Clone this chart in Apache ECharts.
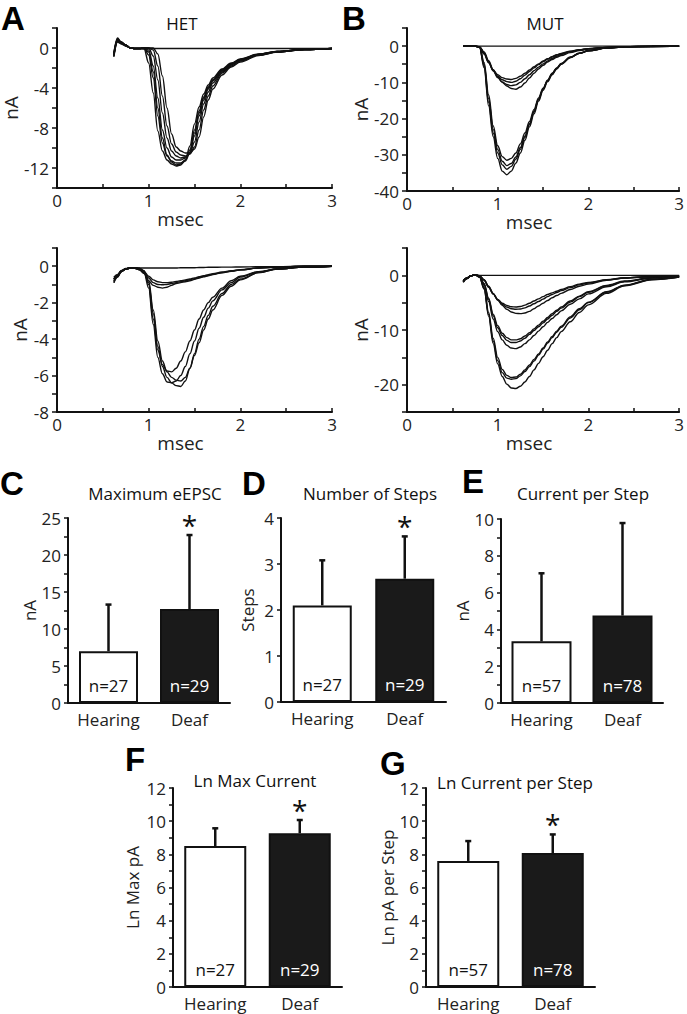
<!DOCTYPE html>
<html><head><meta charset="utf-8">
<script src="https://cdn.jsdelivr.net/npm/echarts@6/dist/echarts.min.js"></script>
<style>html,body{margin:0;padding:0;background:#fff}#c{width:687px;height:1014px}</style>
</head><body><div id="c"></div>
<script>
// ---------- DATA ----------
// shared time base (msec) for all traces
const timeMs = [0.62,0.66,0.7,0.75,0.8,0.85,0.9,0.95,1.0,1.05,1.1,1.15,1.2,1.25,1.3,1.35,1.4,1.45,1.5,1.55,1.6,1.65,1.7,1.8,1.9,2.0,2.2,2.4,2.7,3.0];

// A (top): HET traces, nA
const hetTop = [
  [-0.6,0.9,0.6,0.3,0,-0.05,-0.05,-0.1,-1.5,-4.5,-8.3,-10.3,-11.2,-11.6,-11.8,-11.7,-11.2,-9.8,-7.6,-5.9,-4.6,-3.7,-3.0,-2.1,-1.5,-1.1,-0.6,-0.35,-0.15,-0.05],
  [-0.8,0.7,0.5,0.25,0,-0.05,-0.05,0,-0.7,-3.0,-6.8,-9.5,-10.8,-11.3,-11.5,-11.5,-11.2,-10.2,-8.2,-6.3,-4.9,-3.9,-3.2,-2.2,-1.6,-1.15,-0.65,-0.35,-0.15,-0.05],
  [-0.8,0.8,0.6,0.3,0,-0.05,-0.05,0,-0.4,-2.4,-6.0,-9.0,-10.7,-11.4,-11.7,-11.6,-11.3,-10.5,-8.5,-6.5,-5.0,-4.0,-3.2,-2.2,-1.6,-1.15,-0.65,-0.35,-0.15,-0.05],
  [-0.5,1.0,0.6,0.3,0,-0.05,-0.05,0,-0.2,-1.8,-5.0,-8.2,-10.0,-10.9,-11.2,-11.2,-11.0,-10.4,-8.8,-6.8,-5.2,-4.1,-3.3,-2.3,-1.6,-1.2,-0.65,-0.35,-0.15,-0.05],
  [-0.9,0.6,0.4,0.2,0,-0.05,-0.05,0,0,-0.8,-3.2,-6.5,-9.0,-10.3,-10.8,-11.0,-10.9,-10.5,-9.4,-7.4,-5.6,-4.4,-3.5,-2.4,-1.7,-1.2,-0.7,-0.4,-0.15,-0.05],
  [-0.7,0.8,0.5,0.3,0,-0.05,-0.05,0,0,-0.2,-1.8,-4.8,-7.8,-9.6,-10.4,-10.7,-10.8,-10.6,-9.9,-8.2,-6.2,-4.8,-3.8,-2.5,-1.8,-1.3,-0.7,-0.4,-0.15,-0.05],
  [-0.6,0.9,0.5,0.25,0,-0.05,-0.05,0,0,0,-0.6,-2.8,-6.0,-8.6,-9.9,-10.3,-10.5,-10.5,-10.1,-8.9,-6.9,-5.2,-4.1,-2.7,-1.9,-1.4,-0.75,-0.4,-0.15,-0.05],
  [-0.7,0.7,0.5,0.2,0,-0.05,-0.05,-0.05,-0.05,-0.05,-0.05,-0.05,-0.05,-0.05,-0.05,-0.05,-0.05,-0.05,-0.05,-0.05,-0.05,-0.05,-0.05,-0.05,-0.05,-0.05,-0.05,-0.05,-0.05,-0.05]
];
// B (top): MUT traces, nA
const mutTop = [
  [0,0,0,0,-0.4,-6,-16.5,-25,-31,-34.5,-35.5,-34.5,-32.3,-29.5,-26,-22.3,-18.7,-15.2,-12.2,-9.8,-7.9,-6.3,-5.0,-3.2,-2.0,-1.3,-0.55,-0.2,-0.1,0],
  [0,0,0,0,-0.3,-5.5,-15.5,-24,-29.5,-32.8,-34,-33.2,-31.2,-28.5,-25.2,-21.7,-18.2,-14.8,-11.9,-9.6,-7.7,-6.2,-4.9,-3.1,-2.0,-1.3,-0.55,-0.2,-0.1,0],
  [0,0,0,0,-0.3,-5,-14.5,-23,-28.5,-31.8,-33,-32.4,-30.6,-28,-24.8,-21.4,-18,-14.6,-11.8,-9.5,-7.6,-6.1,-4.9,-3.1,-2.0,-1.3,-0.55,-0.2,-0.1,0],
  [0,0,0,0,-0.2,-4.5,-13.5,-22,-27.5,-30.5,-31.5,-31,-29.5,-27,-24,-20.8,-17.5,-14.3,-11.6,-9.4,-7.5,-6.0,-4.8,-3.0,-1.9,-1.25,-0.5,-0.2,-0.1,0],
  [0,0,0,0,-0.2,-1.6,-4.0,-6.5,-8.5,-10,-11,-11.7,-11.9,-11.3,-10.2,-8.8,-7.5,-6.3,-5.3,-4.4,-3.7,-3.1,-2.6,-1.8,-1.2,-0.8,-0.4,-0.15,-0.05,0],
  [0,0,0,0,-0.3,-2,-4.5,-6.8,-8.3,-9.3,-9.8,-10,-9.7,-9,-8,-7,-6,-5.1,-4.3,-3.6,-3,-2.5,-2.1,-1.5,-1.0,-0.7,-0.35,-0.15,-0.05,0],
  [0,0,0,0,-0.3,-2.2,-4.6,-6.6,-7.9,-8.7,-9.1,-9.2,-8.9,-8.3,-7.5,-6.6,-5.7,-4.9,-4.1,-3.5,-2.9,-2.4,-2.0,-1.4,-1.0,-0.7,-0.35,-0.15,-0.05,0],
  [0,0,0,0,-0.2,-1.8,-4.3,-6.8,-8.7,-9.9,-10.6,-10.9,-10.7,-10,-9,-7.9,-6.8,-5.8,-4.9,-4.1,-3.4,-2.8,-2.3,-1.6,-1.1,-0.75,-0.35,-0.15,-0.05,0],
  [0,0,0,0,0,0,0,0,0,0,0,0,0,0,0,0,0,0,0,0,0,0,0,0,0,0,0,0,0,0]
];
// A (bottom): HET traces, nA
const hetBottom = [
  [-0.9,-0.6,-0.3,-0.15,-0.1,-0.1,-0.12,-0.3,-0.9,-2.6,-4.4,-5.5,-6.1,-6.4,-6.55,-6.6,-6.3,-5.6,-4.8,-4.0,-3.3,-2.7,-2.2,-1.5,-1.0,-0.7,-0.35,-0.15,-0.05,0],
  [-0.7,-0.5,-0.28,-0.15,-0.1,-0.1,-0.12,-0.35,-1.2,-3.2,-5.0,-5.9,-6.35,-6.4,-6.3,-6.0,-5.5,-4.8,-4.1,-3.4,-2.8,-2.3,-1.9,-1.3,-0.9,-0.6,-0.3,-0.15,-0.05,0],
  [-0.8,-0.55,-0.3,-0.15,-0.1,-0.1,-0.12,-0.3,-1.0,-2.9,-4.6,-5.4,-5.75,-5.8,-5.6,-5.2,-4.7,-4.1,-3.5,-2.9,-2.4,-2.0,-1.7,-1.2,-0.8,-0.55,-0.3,-0.15,-0.05,0],
  [-0.6,-0.45,-0.25,-0.15,-0.1,-0.1,-0.12,-0.25,-0.8,-2.4,-4.1,-5.2,-5.8,-6.1,-6.25,-6.3,-6.1,-5.6,-4.9,-4.2,-3.5,-2.9,-2.4,-1.6,-1.1,-0.75,-0.35,-0.15,-0.05,0],
  [-0.9,-0.6,-0.3,-0.15,-0.1,-0.12,-0.2,-0.4,-0.8,-1.05,-1.15,-1.2,-1.15,-1.05,-0.95,-0.9,-0.85,-0.8,-0.72,-0.65,-0.58,-0.52,-0.46,-0.36,-0.28,-0.2,-0.1,-0.05,0,0],
  [-0.7,-0.5,-0.28,-0.15,-0.1,-0.12,-0.18,-0.3,-0.55,-0.75,-0.85,-0.9,-0.9,-0.88,-0.84,-0.8,-0.75,-0.7,-0.64,-0.58,-0.52,-0.46,-0.41,-0.32,-0.25,-0.19,-0.1,-0.05,0,0],
  [-0.8,-0.55,-0.3,-0.15,-0.1,-0.12,-0.2,-0.35,-0.65,-0.9,-1.0,-1.02,-1.0,-0.95,-0.9,-0.85,-0.8,-0.74,-0.68,-0.62,-0.55,-0.5,-0.44,-0.35,-0.27,-0.2,-0.1,-0.05,0,0],
  [-0.7,-0.5,-0.25,-0.12,-0.1,-0.1,-0.1,-0.1,-0.1,-0.1,-0.1,-0.1,-0.1,-0.1,-0.1,-0.08,-0.08,-0.08,-0.08,-0.07,-0.07,-0.06,-0.06,-0.05,-0.05,-0.04,-0.03,-0.02,0,0]
];
// B (bottom): MUT traces, nA
const mutBottom = [
  [-1.2,-0.6,-0.1,0.1,-0.3,-2.5,-7.5,-12.5,-16.2,-18.5,-19.9,-20.6,-20.7,-20.3,-19.5,-18.5,-17.3,-16.1,-14.9,-13.7,-12.5,-11.4,-10.3,-8.5,-6.8,-5.4,-3.3,-1.9,-0.8,-0.3],
  [-1.0,-0.5,-0.1,0.1,-0.3,-2.2,-6.8,-11.5,-15.0,-17.2,-18.3,-18.7,-18.6,-18.1,-17.3,-16.4,-15.4,-14.4,-13.3,-12.2,-11.2,-10.2,-9.3,-7.6,-6.1,-4.9,-3.0,-1.8,-0.7,-0.3],
  [-1.3,-0.6,-0.1,0.1,-0.3,-2.4,-7.2,-12.0,-15.6,-17.8,-18.8,-19.0,-18.9,-18.4,-17.6,-16.7,-15.7,-14.6,-13.5,-12.4,-11.4,-10.4,-9.5,-7.8,-6.3,-5.0,-3.1,-1.85,-0.75,-0.3],
  [-1.0,-0.5,-0.1,0.1,-0.2,-1.8,-4.8,-8.0,-10.3,-11.8,-12.8,-13.3,-13.4,-13.1,-12.5,-11.8,-11.0,-10.2,-9.4,-8.6,-7.9,-7.2,-6.5,-5.3,-4.3,-3.4,-2.1,-1.2,-0.5,-0.2],
  [-1.2,-0.6,-0.1,0.1,-0.2,-1.6,-4.4,-7.4,-9.6,-11.0,-11.9,-12.3,-12.3,-12.0,-11.5,-10.8,-10.1,-9.4,-8.7,-8.0,-7.3,-6.6,-6.0,-4.9,-3.9,-3.1,-1.9,-1.1,-0.45,-0.2],
  [-1.1,-0.5,-0.1,0.1,-0.2,-1.5,-4.2,-7.1,-9.2,-10.6,-11.4,-11.8,-11.8,-11.6,-11.1,-10.5,-9.8,-9.1,-8.4,-7.7,-7.0,-6.4,-5.8,-4.7,-3.8,-3.0,-1.85,-1.05,-0.45,-0.2],
  [-1.0,-0.5,-0.1,0.1,-0.1,-0.8,-2.0,-3.3,-4.5,-5.5,-6.2,-6.7,-6.95,-7.0,-6.9,-6.6,-6.1,-5.6,-5.1,-4.6,-4.1,-3.7,-3.3,-2.6,-2.0,-1.6,-0.9,-0.5,-0.2,-0.1],
  [-1.2,-0.6,-0.1,0.1,-0.1,-0.9,-2.2,-3.4,-4.4,-5.1,-5.5,-5.75,-5.8,-5.7,-5.45,-5.1,-4.7,-4.3,-3.9,-3.5,-3.2,-2.9,-2.6,-2.1,-1.6,-1.3,-0.8,-0.45,-0.2,-0.1],
  [-1.1,-0.5,-0.1,0.1,-0.1,-0.85,-2.1,-3.4,-4.5,-5.3,-5.8,-6.1,-6.2,-6.15,-5.95,-5.6,-5.2,-4.8,-4.35,-3.9,-3.5,-3.15,-2.8,-2.25,-1.75,-1.4,-0.85,-0.5,-0.2,-0.1],
  [-1.0,-0.5,-0.1,0.1,0,0,0,0,0,0,0,0,0,0,0,0,0,0,0,0,0,0,0,0,0,0,0,0,0,0]
];

// bar panels
const groups = ['Hearing', 'Deaf'];
const maxEpscMean = [7.0, 12.7],  maxEpscSd = [6.3, 10.0],  maxEpscN = [27, 29], maxEpscSig = [false, true];
const stepsMean   = [2.1, 2.68],  stepsSd   = [0.98, 0.92], stepsN   = [27, 29], stepsSig   = [false, true];
const cpsMean     = [3.35, 4.75], cpsSd     = [3.7, 5.03],  cpsN     = [57, 78], cpsSig     = [false, false];
const lnMaxMean   = [8.5, 9.27],  lnMaxSd   = [1.07, 0.8],  lnMaxN   = [27, 29], lnMaxSig   = [false, true];
const lnCpsMean   = [7.6, 8.08],  lnCpsSd   = [1.2, 1.12],  lnCpsN   = [57, 78], lnCpsSig   = [false, true];

// ---------- BUILD ----------
const FONT = '"Open Sans", "Noto Sans", sans-serif';
const INK = '#111';
const grids = [], xAxes = [], yAxes = [], series = [], graphics = [];

function txt(text, x, y, size) {
  graphics.push({
    type: 'text', x: x, y: y, silent: true,
    style: { text: text, fontSize: size, fontFamily: FONT, fill: INK, align: 'center', verticalAlign: 'middle' }
  });
}
function letter(l, x, y) {
  graphics.push({ type: 'text', x: x, y: y, silent: true,
    style: { text: l, fontSize: 33, lineHeight: 33, fontWeight: 'bold', fontFamily: '"Liberation Sans", Arial, sans-serif', fill: '#000', align: 'left', verticalAlign: 'top' } });
}

function tracePanel(g, traces, yMin, yMax, yStep, labelStep, nameGap) {
  const k = grids.length;
  grids.push({ left: g[0], top: g[1], width: g[2], height: g[3], containLabel: false });
  xAxes.push({
    type: 'value', gridIndex: k, min: 0, max: 3, interval: 0.5,
    axisLine: { onZero: false, lineStyle: { color: INK, width: 2 } },
    axisTick: { show: true, inside: true, length: 4, lineStyle: { color: INK, width: 1.5 } },
    splitLine: { show: false },
    axisLabel: { color: '#222', fontSize: 17, fontFamily: FONT, margin: 4,
      formatter: v => (Math.abs(v - Math.round(v)) < 1e-9 ? String(Math.round(v)) : '') },
    name: 'msec', nameLocation: 'middle', nameGap: 12,
    nameTextStyle: { color: '#222', fontSize: 19, fontFamily: FONT, padding: [0, 28, 0, 0] }
  });
  yAxes.push({
    type: 'value', gridIndex: k, min: yMin, max: yMax, interval: yStep,
    axisLine: { show: true, onZero: false, lineStyle: { color: INK, width: 2 } },
    axisTick: { show: true, length: 5, lineStyle: { color: INK, width: 1.5 } },
    splitLine: { show: false },
    axisLabel: { color: '#222', fontSize: 17, fontFamily: FONT, margin: 8,
      formatter: v => (Math.abs(v / labelStep - Math.round(v / labelStep)) < 1e-9 ? String(v) : '') },
    name: 'nA', nameLocation: 'middle', nameGap: nameGap,
    nameTextStyle: { color: '#222', fontSize: 19, fontFamily: FONT }
  });
  traces.forEach(tr => {
    series.push({
      type: 'line', xAxisIndex: k, yAxisIndex: k, silent: true, animation: false,
      showSymbol: false, smooth: 0.35, smoothMonotone: 'x',
      lineStyle: { color: INK, width: 1.4 },
      data: timeMs.map((t, i) => [t, tr[i]])
    });
  });
}

function renderErr(params, api) {
  const i = api.value(0), m = api.value(1), s = api.value(2), sig = api.value(3);
  const p0 = api.coord([i, m]), p1 = api.coord([i, m + s]);
  const ch = [
    { type: 'line', shape: { x1: p0[0], y1: p0[1], x2: p1[0], y2: p1[1] }, style: { stroke: INK, lineWidth: 2.5 } },
    { type: 'line', shape: { x1: p1[0] - 3, y1: p1[1], x2: p1[0] + 3, y2: p1[1] }, style: { stroke: INK, lineWidth: 2.5 } }
  ];
  if (sig) ch.push({ type: 'text', x: p1[0], y: p1[1] - 10,
    style: { text: '*', fontSize: 28, fontFamily: FONT, fill: INK, align: 'center', verticalAlign: 'middle' } });
  return { type: 'group', children: ch };
}

function barPanel(g, means, sds, ns, sigs, yMax, yStep, labelStep, yName, nameGap, barW) {
  const k = grids.length;
  grids.push({ left: g[0], top: g[1], width: g[2], height: g[3], containLabel: false });
  xAxes.push({
    type: 'category', gridIndex: k, data: groups,
    axisLine: { lineStyle: { color: INK, width: 2 } },
    axisTick: { show: false },
    axisLabel: { color: '#222', fontSize: 17, fontFamily: FONT, margin: 8, interval: 0 }
  });
  yAxes.push({
    type: 'value', gridIndex: k, min: 0, max: yMax, interval: yStep,
    axisLine: { show: true, lineStyle: { color: INK, width: 2 } },
    axisTick: { show: true, length: 4, lineStyle: { color: INK, width: 1.5 } },
    splitLine: { show: false },
    axisLabel: { color: '#222', fontSize: 17, fontFamily: FONT, margin: 7,
      formatter: v => (Math.abs(v / labelStep - Math.round(v / labelStep)) < 1e-9 ? String(v) : '') },
    name: yName, nameLocation: 'middle', nameGap: nameGap,
    nameTextStyle: { color: '#222', fontSize: 17, fontFamily: FONT }
  });
  const fills = ['#ffffff', '#1a1a1a'], nColors = ['#111', '#ffffff'];
  series.push({
    type: 'bar', xAxisIndex: k, yAxisIndex: k, barWidth: barW, silent: true, animation: false,
    data: means.map((m, i) => ({ value: m, itemStyle: { color: fills[i], borderColor: INK, borderWidth: 2 },
      label: { color: nColors[i] } })),
    label: { show: true, position: 'insideBottom', distance: 9, fontSize: 17, fontFamily: FONT,
      formatter: p => 'n=' + ns[p.dataIndex] }
  });
  series.push({
    type: 'custom', xAxisIndex: k, yAxisIndex: k, silent: true, animation: false, z: 5,
    renderItem: renderErr,
    data: means.map((m, i) => [i, m, sds[i], sigs[i] ? 1 : 0])
  });
}

// trace panels
tracePanel([57, 28, 275, 160], hetTop, -14, 2, 2, 4, 24);
tracePanel([407, 28, 275, 163], mutTop, -40, 5, 5, 10, 37);
tracePanel([57, 248, 275, 164], hetBottom, -8, 1, 1, 2, 24);
tracePanel([407, 248, 275, 164], mutBottom, -25, 5, 5, 10, 37);
// bar panels
barPanel([68, 518, 162, 185], maxEpscMean, maxEpscSd, maxEpscN, maxEpscSig, 25, 2.5, 5, 'nA', 29, 59);
barPanel([281, 518, 165, 184], stepsMean, stepsSd, stepsN, stepsSig, 4, 1, 1, 'Steps', 25, 59);
barPanel([501, 519, 162, 184], cpsMean, cpsSd, cpsN, cpsSig, 10, 1, 2, 'nA', 25, 60);
barPanel([173, 788, 169, 199], lnMaxMean, lnMaxSd, lnMaxN, lnMaxSig, 12, 1, 2, 'Ln Max pA', 32, 62);
barPanel([426, 788, 169, 199], lnCpsMean, lnCpsSd, lnCpsN, lnCpsSig, 12, 1, 2, 'Ln pA per Step', 30, 62);

// titles
txt('HET', 182, 23, 17);
txt('MUT', 545, 23, 17);
txt('Maximum eEPSC', 155, 493, 17);
txt('Number of Steps', 370, 493, 17);
txt('Current per Step', 583, 493, 17);
txt('Ln Max Current', 255, 780, 17);
txt('Ln Current per Step', 515, 782, 17);
// panel letters
letter('A', 1, 2);
letter('B', 342, 2);
letter('C', 0, 467);
letter('D', 242, 467);
letter('E', 462, 465);
letter('F', 125, 743);
letter('G', 380, 747);

const chart = echarts.init(document.getElementById('c'), null, { renderer: 'svg' });
chart.setOption({
  backgroundColor: '#ffffff',
  animation: false,
  grid: grids, xAxis: xAxes, yAxis: yAxes, series: series,
  graphic: { elements: graphics }
});
</script></body></html>
